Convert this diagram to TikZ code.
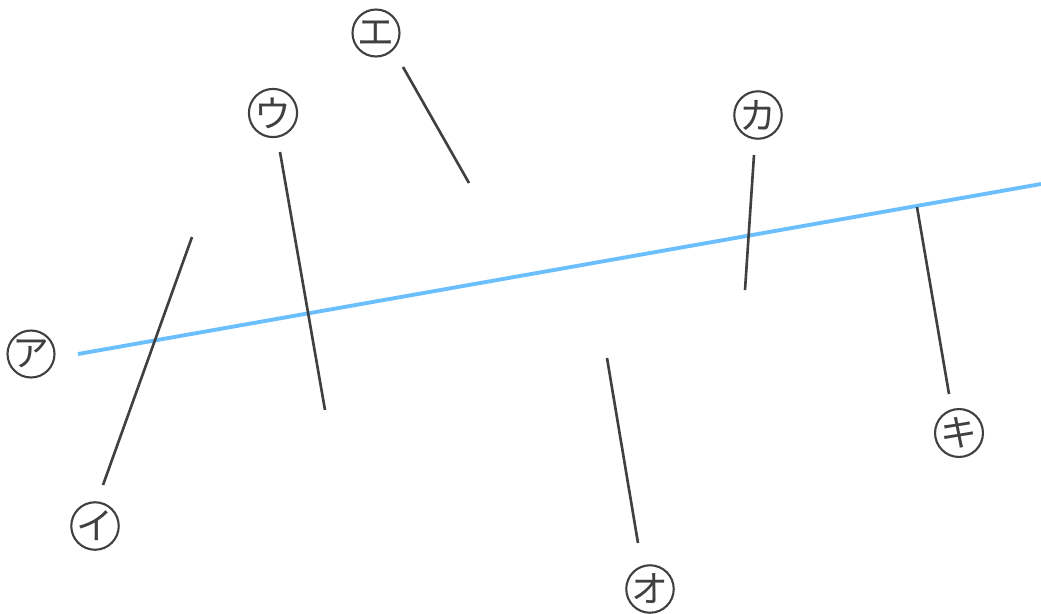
\documentclass[tikz,border=0pt]{standalone}
\usepackage{fontspec}
\newfontfamily\jpfont{Noto Sans CJK JP}
\definecolor{inkgray}{HTML}{404040}
\definecolor{lineblue}{HTML}{6BBFFF}
\tikzset{
    fig/.cd,
    label/.style={draw=inkgray,circle,line width=1.2pt,minimum size=0.94cm,inner sep=0pt,
      text=inkgray,font=\jpfont\fontsize{21}{21}\selectfont},
    pointer/.style={draw=inkgray,line width=1.5pt},
    blueline/.style={draw=lineblue,line width=2.2pt},
}
\begin{document}
\begin{tikzpicture}[x=0.02cm,y=-0.02cm]
      \useasboundingbox (0,0) rectangle (1041,613);

      \draw[fig/blueline] (78,354) coordinate (b0) -- (1041,184) coordinate (b1);

      \foreach \n/\t/\x/\y in {a/ア/31/354,i/イ/95/526,u/ウ/273/113,e/エ/376/33,o/オ/650/589,ka/カ/758/115,ki/キ/959/433} {
        \node[fig/label] (\n) at (\x,\y) {\t};
      }

      \foreach \n/\ax/\ay/\bx/\by in {i/103/485/192/237,u/280/152/325/410,e/403/67/469/183,
                                      o/638/543/607/358,ka/754/155/745/290,ki/949/394/917/207} {
        \coordinate (\n-s) at (\ax,\ay);
        \coordinate (\n-t) at (\bx,\by);
        \draw[fig/pointer] (\n-s) -- (\n-t);
      }
    \end{tikzpicture}
\end{document}
